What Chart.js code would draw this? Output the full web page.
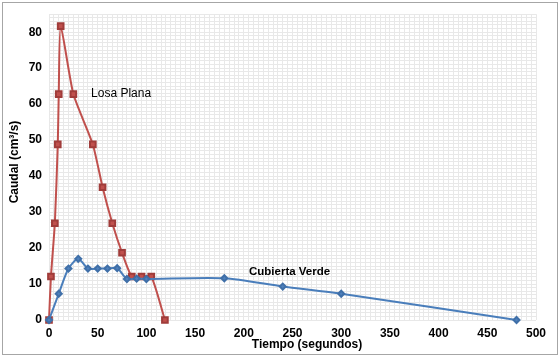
<!DOCTYPE html>
<html>
<head>
<meta charset="utf-8">
<script src="https://cdn.jsdelivr.net/npm/chart.js@4/dist/chart.umd.min.js"></script>
<style>
html,body{margin:0;padding:0;background:#fff;}
#wrap{width:560px;height:359px;position:relative;}
</style>
</head>
<body>
<div id="wrap"><canvas id="c" width="560" height="359"></canvas></div>
<script>
// Losa Plana (red) : time in s, flow in cm3/s
const losaTime = [0, 2, 6, 9, 10, 12, 25, 45, 55, 65, 75, 85, 95, 105, 119];
const losaFlow = [0, 12.1, 26.9, 48.8, 62.8, 81.7, 62.8, 48.8, 36.9, 26.9, 18.7, 12.1, 12.1, 12.1, 0];
// Cubierta Verde (blue)
const verdeTime = [0, 10, 20, 30, 40, 50, 60, 70, 80, 90, 100, 180, 240, 300, 480];
const verdeFlow = [0, 7.3, 14.3, 17.0, 14.3, 14.3, 14.3, 14.4, 11.4, 11.5, 11.4, 11.6, 9.3, 7.3, 0];
// axis tick labels
const xTickLabels = [0, 50, 100, 150, 200, 250, 300, 350, 400, 450, 500];
const yTickLabels = [0, 10, 20, 30, 40, 50, 60, 70, 80];
const seriesNames = ['Losa Plana', 'Cubierta Verde'];
const xTitle = 'Tiempo (segundos)';
const yTitle = 'Caudal (cm\u00B3/s)';

const FONT = "'Liberation Sans', Arial, sans-serif";

function pts(xs, ys){ return xs.map((x,i)=>({x:x, y:ys[i]})); }

const decor = {
  id:'decor',
  beforeDraw(chart){
    const ctx = chart.ctx;
    ctx.save();
    ctx.fillStyle = '#fff';
    ctx.fillRect(0,0,chart.width,chart.height);
    ctx.restore();
  },
  afterDraw(chart){
    const ctx = chart.ctx;
    const xs = chart.scales.x, ys = chart.scales.y;
    ctx.save();
    ctx.strokeStyle = '#a6a6a6';
    ctx.lineWidth = 1;
    ctx.strokeRect(2.5, 2.5, 555, 352);
    // series labels
    ctx.fillStyle = '#000';
    ctx.textAlign = 'center';
    ctx.textBaseline = 'middle';
    ctx.font = "12px " + FONT;
    ctx.fillText(seriesNames[0], xs.getPixelForValue(74), ys.getPixelForValue(62.8));
    ctx.font = "bold 11.5px " + FONT;
    ctx.fillText(seriesNames[1], xs.getPixelForValue(247), ys.getPixelForValue(13.5));
    // axis titles
    ctx.font = "bold 12px " + FONT;
    ctx.fillText(xTitle, 307, 345);
    ctx.translate(15, 162);
    ctx.rotate(-Math.PI/2);
    ctx.fillText(yTitle, 0, 0);
    ctx.restore();
  }
};

new Chart(document.getElementById('c'), {
  type: 'scatter',
  data: {
    datasets: [
      {
        label: seriesNames[1],
        data: pts(verdeTime, verdeFlow),
        showLine: true,
        borderColor: '#4a7ebb',
        backgroundColor: '#4f81bd',
        pointBorderColor: '#3f6fa8',
        borderWidth: 2,
        pointStyle: 'rectRot',
        pointRadius: 3,
        pointHoverRadius: 3,
        tension: 0.25,
        clip: false
      },
      {
        label: seriesNames[0],
        data: pts(losaTime, losaFlow),
        showLine: true,
        borderColor: '#c0504d',
        backgroundColor: '#c0504d',
        pointBorderColor: '#a03c3a',
        borderWidth: 2,
        pointStyle: 'rect',
        pointRadius: 4,
        pointHoverRadius: 4,
        tension: 0.2,
        clip: false
      }
    ]
  },
  options: {
    responsive: false,
    animation: false,
    events: [],
    layout: { padding: { left: 0, right: 24, top: 10, bottom: 3 } },
    plugins: { legend: { display: false }, tooltip: { enabled: false } },
    scales: {
      x: {
        type: 'linear',
        min: 0, max: 500,
        afterFit(s){ s.height = 36; },
        border: { display: false },
        grid: { color: '#e8e8e8', lineWidth: 1, drawTicks: false },
        ticks: {
          stepSize: 5,
          autoSkip: false,
          maxRotation: 0,
          padding: 6,
          color: '#000',
          font: { family: FONT, size: 12, weight: 'bold' },
          callback: (v) => xTickLabels.includes(v) ? String(v) : ''
        }
      },
      y: {
        type: 'linear',
        min: 0, max: 85,
        afterFit(s){ s.width = 49; },
        border: { display: false },
        grid: { color: '#e8e8e8', lineWidth: 1, drawTicks: false },
        ticks: {
          stepSize: 1,
          autoSkip: false,
          padding: 7,
          color: '#000',
          font: { family: FONT, size: 12, weight: 'bold' },
          callback: (v) => yTickLabels.includes(v) ? String(v) : ''
        }
      }
    }
  },
  plugins: [decor]
});
</script>
</body>
</html>
